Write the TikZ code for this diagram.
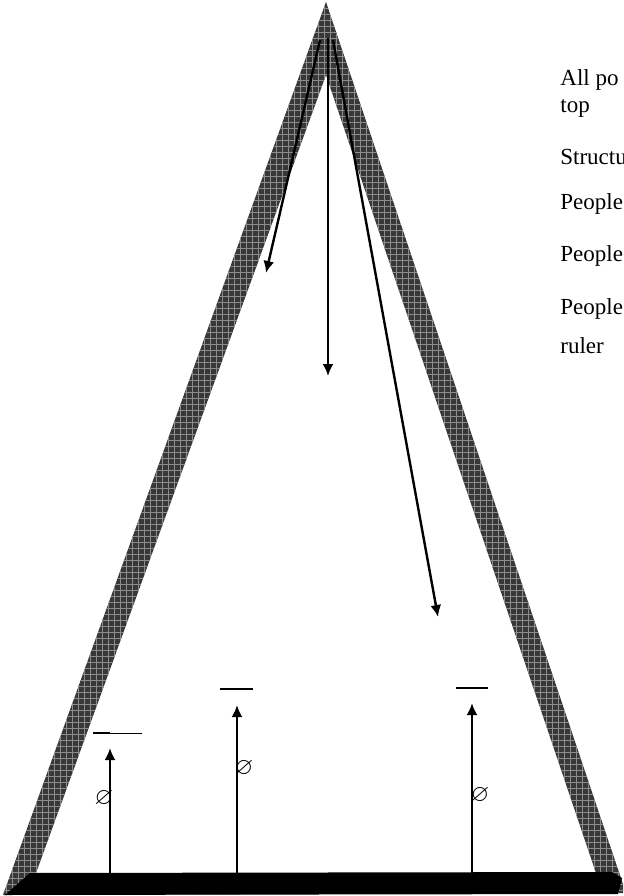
\documentclass[tikz,border=0pt]{standalone}
\usepackage{amssymb}
\usepackage{fontspec}
\setmainfont{Liberation Serif}
\usetikzlibrary{arrows.meta,patterns}

\begin{document}
\begin{tikzpicture}[x=0.5pt,y=-0.5pt,
				band/.style = {fill=black!78},
				main arrow/.style = {line width=1.2pt,-{Latex[length=6pt,width=5.5pt]}},
				label node/.style = {anchor=base west,inner sep=0pt,font=\fontsize{11.5}{14}\selectfont},
				null node/.style = {inner sep=0pt,font=\large}]
				
				\useasboundingbox (0,0) rectangle (623,896);
				\clip (0,0) rectangle (623,896);
				
				% thick sides of the pyramid
				\fill[band,even odd rule] (326,2) -- (3,895) -- (626,893) -- cycle
				(326,75) -- (36,873) -- (596,873) -- cycle;
				\fill[pattern=grid,pattern color=black!45,even odd rule] (326,2) -- (3,895) -- (626,893) -- cycle
				(326,75) -- (36,873) -- (596,873) -- cycle;
				\fill[black] (5,895) -- (30,873) -- (612,872) -- (622,878) -- (618,894) -- cycle;
				
				\coordinate (top1) at (320,40);
				\coordinate (top2) at (328,38);
				\coordinate (top3) at (333,40);
				\coordinate (1) at (266,273);
				\coordinate (2) at (328,376);
				\coordinate (3) at (438,617);
				
				\draw[main arrow] (top1) -- (1);
				\draw[main arrow] (top2) -- (2);
				\draw[main arrow] (top3) -- (3);
				
				\coordinate (b1) at (110,873);
				\coordinate (b2) at (237,873);
				\coordinate (b3) at (472,873);
				\coordinate (4) at (110,748);
				\coordinate (5) at (237,705);
				\coordinate (6) at (472,703);
				
				\draw[main arrow] (b1) -- (4);
				\draw[main arrow] (b2) -- (5);
				\draw[main arrow] (b3) -- (6);
				
				\draw[line width=1.1pt] (93,733) -- (110,733);
				\draw[line width=0.5pt] (110,733) -- (142,733);
				\draw[line width=1.1pt] (220,689) -- (253,689);
				\draw[line width=1.1pt] (456,688) -- (488,688);
				
				\node[null node] (n1) at (104,798) {$\varnothing$};
				\node[null node] (n2) at (244,768) {$\varnothing$};
				\node[null node] (n3) at (480,795) {$\varnothing$};
				
				\node[label node] (t1) at (560,85) {All po};
				\node[label node] (t2) at (560,112) {top};
				\node[label node] (t3) at (560,164) {Structu};
				\node[label node] (t4) at (560,209) {People};
				\node[label node] (t5) at (560,261) {People};
				\node[label node] (t6) at (560,314) {People};
				\node[label node] (t7) at (560,353) {ruler};
				
				\end{tikzpicture}
\end{document}
